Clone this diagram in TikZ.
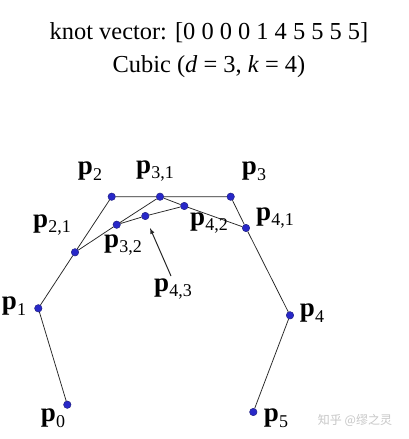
\documentclass[tikz,border=0pt]{standalone}
\usepackage{fontspec}
\setmainfont{Liberation Serif}
\newfontfamily\cjk{Noto Sans CJK SC}
\usetikzlibrary{backgrounds}
\definecolor{dotblue}{RGB}{40,40,200}
\definecolor{dotedge}{RGB}{25,25,120}
\newcommand{\plab}[1]{\textbf{p}\raisebox{-.45ex}{\fontsize{18}{18}\selectfont #1}}
\tikzset{
  ctrl/.style={draw=dotedge, fill=dotblue, circle, inner sep=0pt, minimum size=7.5pt},
  lab/.style={font=\fontsize{27}{27}\selectfont, inner sep=0pt},
  poly/.style={line width=.75pt, black!85}
}
\begin{document}
\begin{tikzpicture}[x=1pt,y=-1pt]
\useasboundingbox (0,0) rectangle (409,439);
\node (title) at (209,33) [font=\fontsize{24.4}{24.4}\selectfont] {knot vector: [0 0 0 0 1 4 5 5 5 5]};
\node (sub) at (209,67) [font=\fontsize{24.4}{24.4}\selectfont] {Cubic (\textit{d} = 3, \textit{k} = 4)};

\node (p0) at (67.3,404.7) [ctrl] {};
\node (p1) at (38.3,308.3) [ctrl] {};
\node (p2) at (111.7,196.7) [ctrl] {};
\node (p3) at (230.7,196.7) [ctrl] {};
\node (p4) at (290,315.3) [ctrl] {};
\node (p5) at (253.3,412) [ctrl] {};
\node (p21) at (75,252.3) [ctrl] {};
\node (p31) at (160,196.7) [ctrl] {};
\node (p41) at (246,228) [ctrl] {};
\node (p32) at (116.7,224.7) [ctrl] {};
\node (p42) at (184.3,206) [ctrl] {};
\node (p43) at (145.3,216) [ctrl] {};

\node (l0) at (53,418) [lab] {\plab{0}};
\node (l1) at (14,306) [lab] {\plab{1}};
\node (l2) at (90,171) [lab] {\plab{2}};
\node (l3) at (254,171) [lab] {\plab{3}};
\node (l4) at (312,313) [lab] {\plab{4}};
\node (l5) at (276,418) [lab] {\plab{5}};
\node (l21) at (52,225) [lab] {\plab{2,1}};
\node (l31) at (155,171) [lab] {\plab{3,1}};
\node (l41) at (275,218) [lab] {\plab{4,1}};
\node (l32) at (123,245) [lab] {\plab{3,2}};
\node (l42) at (209,223) [lab] {\plab{4,2}};
\node (l43) at (173,289) [lab] {\plab{4,3}};
\coordinate (tail) at (171,276);
\coordinate (tip) at (150,228);

\node (wm) at (355,420) [font=\cjk\fontsize{12}{12}\selectfont, text=black!22] {知乎 @缪之灵};

\begin{pgfonlayer}{background}
\fill[white] (0,0) rectangle (409,439);
\draw[poly]
(p0) to (p1)
(p1) to (p21)
(p21) to (p2)
(p2) to (p31)
(p31) to (p3)
(p3) to (p41)
(p41) to (p4)
(p4) to (p5)
(p21) to (p32)
(p32) to (p31)
(p31) to (p42)
(p42) to (p41)
(p32) to (p43)
(p43) to (p42);
\end{pgfonlayer}
\draw[poly, line width=1pt, -latex] (tail) -- (tip);
\end{tikzpicture}
\end{document}
